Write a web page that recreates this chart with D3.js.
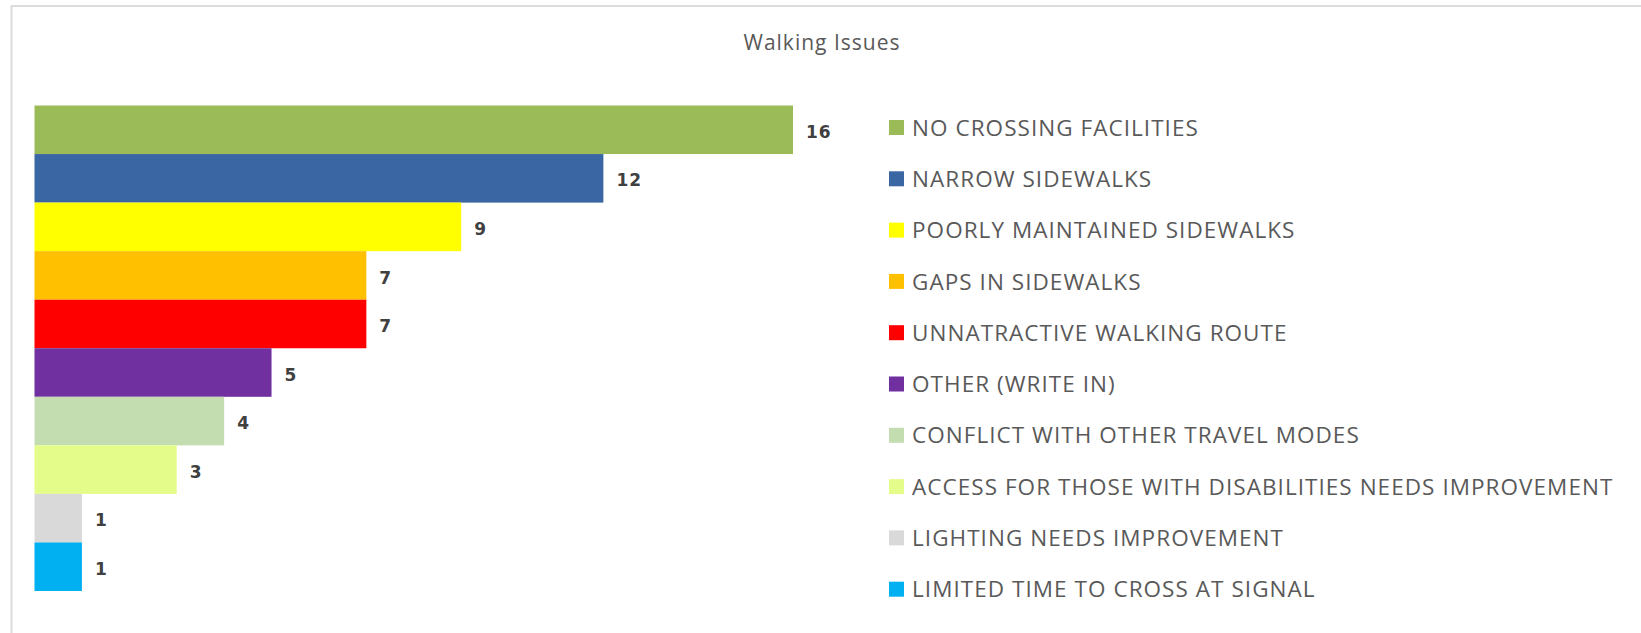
<!DOCTYPE html>
<html>
<head>
<meta charset="utf-8">
<script src="https://cdn.jsdelivr.net/npm/d3@7"></script>
<style>
    body { margin: 0; background: #ffffff; }
</style>
</head>
<body>
<svg id="drawing_region"></svg>
<script>
const categories = [
    "NO CROSSING FACILITIES",
    "NARROW SIDEWALKS",
    "POORLY MAINTAINED SIDEWALKS",
    "GAPS IN SIDEWALKS",
    "UNNATRACTIVE WALKING ROUTE",
    "OTHER (WRITE IN)",
    "CONFLICT WITH OTHER TRAVEL MODES",
    "ACCESS FOR THOSE WITH DISABILITIES NEEDS IMPROVEMENT",
    "LIGHTING NEEDS IMPROVEMENT",
    "LIMITED TIME TO CROSS AT SIGNAL"
];
const values = [16, 12, 9, 7, 7, 5, 4, 3, 1, 1];
const colors = ["#9bbb59", "#3a66a3", "#ffff00", "#ffc000", "#ff0000",
                "#7030a0", "#c3ddb1", "#e4fd8a", "#d9d9d9", "#00b0f0"];

class BarChart {

    constructor( config, data ) {
        this.config = {
            parent: config.parent,
            width: config.width || 1641,
            height: config.height || 633,
        }
        this.data = data
        this.init();
    }

    init() {
        let self = this;

        self.svg = d3.select( self.config.parent )
            .attr('width', self.config.width)
            .attr('height', self.config.height);

        self.xscale = d3.scaleLinear()
            .domain([0, 16])
            .range([34.5, 793]);

        self.yscale = d3.scaleBand()
            .domain(self.data.map(d => d.label))
            .range([105.5, 591])
            .padding(0);
    }

    update() {
        let self = this;
        self.render();
    }

    render() {
        let self = this;

        // light frame like the original screenshot
        self.svg.append("rect")
            .attr("x", 11.5)
            .attr("y", 6)
            .attr("width", self.config.width)
            .attr("height", self.config.height)
            .attr("fill", "none")
            .attr("stroke", "#dcdcdc")
            .attr("stroke-width", 2);

        self.svg.append("text")
            .attr("x", 822)
            .attr("y", 50)
            .attr("text-anchor", "middle")
            .attr("font-family", "'Open Sans', sans-serif")
            .attr("font-size", "21px")
            .attr("letter-spacing", "1px")
            .attr("fill", "#595959")
            .text("Walking Issues");

        self.svg.selectAll(".bar")
            .data(self.data)
            .enter()
            .append("rect")
            .attr("class", "bar")
            .attr("x", self.xscale(0))
            .attr("y", d => self.yscale(d.label))
            .attr("width", d => self.xscale(d.value) - self.xscale(0))
            .attr("height", self.yscale.bandwidth())
            .attr("fill", d => d.color);

        self.svg.selectAll(".value")
            .data(self.data)
            .enter()
            .append("text")
            .attr("class", "value")
            .attr("x", d => self.xscale(d.value) + 13)
            .attr("y", d => self.yscale(d.label) + self.yscale.bandwidth() / 2 + 2)
            .attr("dy", "0.36em")
            .attr("font-family", "'DejaVu Sans', sans-serif")
            .attr("font-weight", "bold")
            .attr("font-size", "17px")
            .attr("letter-spacing", "1px")
            .attr("fill", "#404040")
            .text(d => d.value);

        const legend = self.svg.selectAll(".legend")
            .data(self.data)
            .enter()
            .append("g")
            .attr("class", "legend")
            .attr("transform", (d, i) => `translate(889, ${127.5 + i * 51.3})`);

        legend.append("rect")
            .attr("x", 0)
            .attr("y", -7.5)
            .attr("width", 15)
            .attr("height", 15)
            .attr("fill", d => d.color);

        legend.append("text")
            .attr("x", 23)
            .attr("dy", "0.36em")
            .attr("font-family", "'Open Sans', sans-serif")
            .attr("font-size", "22.5px")
            .attr("letter-spacing", "1.05px")
            .attr("fill", "#595959")
            .text(d => d.label);
    }
}

const data = categories.map((c, i) => ({ label: c, value: values[i], color: colors[i] }));

var config = {
    parent: '#drawing_region',
    width: 1641,
    height: 633,
};

const barchart = new BarChart( config, data );
barchart.update();
</script>
</body>
</html>
